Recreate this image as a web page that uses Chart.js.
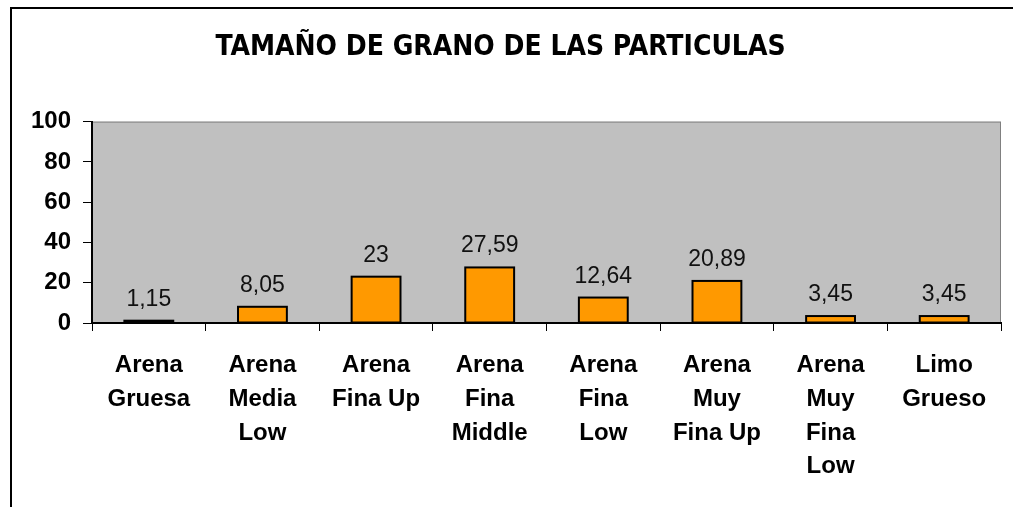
<!DOCTYPE html>
<html>
<head>
<meta charset="utf-8">
<script src="https://cdn.jsdelivr.net/npm/chart.js@4"></script>
<style>
html,body{margin:0;padding:0;background:#fff;}
#wrap{width:1013px;height:507px;position:relative;}
</style>
</head>
<body>
<div id="wrap"><canvas id="c" width="1013" height="507"></canvas></div>
<script>
const categories = [
  ["Arena","Gruesa"],
  ["Arena","Media","Low"],
  ["Arena","Fina Up"],
  ["Arena","Fina","Middle"],
  ["Arena","Fina","Low"],
  ["Arena","Muy","Fina Up"],
  ["Arena","Muy","Fina","Low"],
  ["Limo","Grueso"]
];
const values = [1.15, 8.05, 23, 27.59, 12.64, 20.89, 3.45, 3.45];
const valueLabels = ["1,15", "8,05", "23", "27,59", "12,64", "20,89", "3,45", "3,45"];
const yTicks = [0, 20, 40, 60, 80, 100];
const titleText = "TAMAÑO DE GRANO DE LAS PARTICULAS";

const frame = {
  id: 'frame',
  beforeDraw(chart) {
    const ctx = chart.ctx, a = chart.chartArea;
    ctx.save();
    ctx.fillStyle = '#C0C0C0';
    ctx.fillRect(a.left, a.top, a.right - a.left, a.bottom - a.top);
    ctx.strokeStyle = '#808080';
    ctx.lineWidth = 1;
    ctx.strokeRect(a.left + 0.5, a.top + 0.5, a.right - a.left - 1, a.bottom - a.top);
    ctx.strokeStyle = '#000';
    ctx.lineWidth = 2;
    ctx.beginPath();
    ctx.moveTo(11, 507);
    ctx.lineTo(11, 8);
    ctx.lineTo(1013, 8);
    ctx.stroke();
    ctx.restore();
  },
  afterDatasetsDraw(chart) {
    const ctx = chart.ctx;
    const meta = chart.getDatasetMeta(0);
    ctx.save();
    ctx.strokeStyle = '#000';
    ctx.lineWidth = 2;
    meta.data.forEach((bar) => {
      const w = bar.width;
      ctx.strokeRect(bar.x - w / 2, bar.y, w, bar.base - bar.y);
    });
    ctx.font = '23px "Liberation Sans", Arial, sans-serif';
    ctx.fillStyle = '#111';
    ctx.textAlign = 'center';
    ctx.textBaseline = 'alphabetic';
    meta.data.forEach((bar, i) => {
      ctx.fillText(valueLabels[i], bar.x, bar.y - 15);
    });
    ctx.restore();
  }
};

new Chart(document.getElementById('c'), {
  type: 'bar',
  data: {
    labels: categories,
    datasets: [{
      data: values,
      backgroundColor: '#FF9900',
      borderWidth: 0,
      barPercentage: 0.43,
      categoryPercentage: 1
    }]
  },
  plugins: [frame],
  options: {
    responsive: false,
    animation: false,
    devicePixelRatio: 1,
    layout: { padding: { left: 0, right: 12, top: 0, bottom: 0 } },
    plugins: {
      legend: { display: false },
      tooltip: { enabled: false },
      title: {
        display: true,
        text: titleText,
        color: '#000',
        font: { family: '"Liberation Sans Narrow", "DejaVu Sans Condensed", "Liberation Sans", sans-serif', size: 28, weight: 'bold', lineHeight: 1.2 },
        padding: { top: 31, bottom: 57 }
      }
    },
    scales: {
      x: {
        offset: true,
        grid: { offset: true, drawOnChartArea: false, color: '#000', tickLength: 8, lineWidth: 1 },
        border: { color: '#000', width: 2 },
        ticks: {
          color: '#000',
          font: { family: '"Liberation Sans", Arial, sans-serif', size: 24, weight: 'bold', lineHeight: 1.4 },
          padding: 18,
          maxRotation: 0,
          autoSkip: false
        },
        afterFit(scale) { scale.height = 184; }
      },
      y: {
        min: 0, max: 100,
        afterBuildTicks(scale) { scale.ticks = yTicks.map(v => ({ value: v })); },
        grid: { drawOnChartArea: false, color: '#000', tickLength: 9, lineWidth: 1 },
        border: { color: '#000', width: 2 },
        ticks: {
          color: '#000',
          font: { family: '"Liberation Sans", Arial, sans-serif', size: 24, weight: 'bold' },
          padding: 12
        },
        afterFit(scale) { scale.width = 92; }
      }
    }
  }
});
</script>
</body>
</html>
